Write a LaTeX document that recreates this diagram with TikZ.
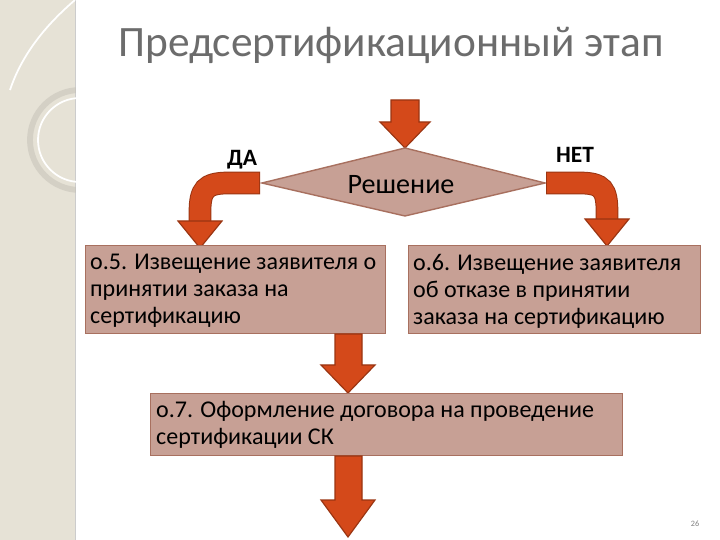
\documentclass[tikz,border=0pt]{standalone}
\usepackage{fontspec}
\setmainfont{Carlito}
\begin{document}
\begin{tikzpicture}[x=0.03cm,y=-0.03cm,
  arr/.style={fill=arrowfill,draw=arrowline,line width=1pt},
  box/.style={fill=boxfill,draw=boxline,line width=1.2pt,anchor=north west,inner sep=0pt},
  btext/.style={font=\fontsize{20.5}{23}\selectfont,align=left,anchor=north west,inner sep=0pt}]
\definecolor{arrowfill}{HTML}{D4491A}
\definecolor{arrowline}{HTML}{9A3512}
\definecolor{boxfill}{HTML}{C7A095}
\definecolor{boxline}{HTML}{A8705F}
\definecolor{strip}{HTML}{E6E2D6}
\useasboundingbox (0,0) rectangle (720,540);
\fill[white] (0,0) rectangle (720,540);
% left strip
\fill[strip] (0,0) rectangle (75,540);
\draw[gray!40,line width=0.8pt] (75,0) -- (75,540);
\draw[white,line width=1.5pt] (75,0) .. controls (40,30) and (20,60) .. (10,90);
\draw[strip!85!black,line width=5pt,opacity=0.5] (80,140) circle (50);
\draw[white,line width=1.5pt] (80,140) circle (42);
\fill[white] (76,0) rectangle (720,540);
% title
\node[font=\fontsize{37}{40}\selectfont,text=gray!85!black] (title) at (391,45) {Предсертификационный этап};
% top arrow
\filldraw[arr] (391,100) -- (419,100) -- (419,122) -- (430,122) -- (405,148) -- (380,122) -- (391,122) -- cycle;
% diamond
\filldraw[fill=boxfill,draw=boxline,line width=1.2pt] (405,148) -- (545,183) -- (405,216) -- (262,183) -- cycle;
\node[font=\fontsize{24}{26}\selectfont] (res) at (401,185) {Решение};
\node[font=\fontsize{20}{22}\selectfont\bfseries] (da) at (242,160) {ДА};
\node[font=\fontsize{20}{22}\selectfont\bfseries] (net) at (575,155) {НЕТ};
% left curved arrow
\draw[arrowline,line width=0.68cm] (260,183) -- (228,183) .. controls (205,183) and (200,190) .. (200,212) -- (200,222);
\draw[arrowfill,line width=0.62cm] (259,183) -- (228,183) .. controls (205,183) and (200,190) .. (200,212) -- (200,223);
\filldraw[arr] (178,221) -- (222,221) -- (200,248) -- cycle;
% right curved arrow
\draw[arrowline,line width=0.68cm] (546,183) -- (580,183) .. controls (603,183) and (607,190) .. (607,212) -- (607,220);
\draw[arrowfill,line width=0.62cm] (547,183) -- (580,183) .. controls (603,183) and (607,190) .. (607,212) -- (607,221);
\filldraw[arr] (585,219) -- (629,219) -- (607,246) -- cycle;
% boxes
\node[box,minimum width=300*0.03cm,minimum height=88*0.03cm] (b5) at (85,245) {};
\node[btext] (t5) at (90,254) {о.5. Извещение заявителя о\\принятии заказа на\\сертификацию};
\node[box,minimum width=292*0.03cm,minimum height=88*0.03cm] (b6) at (408,245) {};
\node[btext] (t6) at (413,254) {о.6. Извещение заявителя\\об отказе в принятии\\заказа на сертификацию};
% middle arrow
\filldraw[arr] (335,334) -- (362,334) -- (362,365) -- (375,365) -- (348,393) -- (321,365) -- (335,365) -- cycle;
\node[box,minimum width=472*0.03cm,minimum height=62*0.03cm] (b7) at (150,393) {};
\node[btext] (t7) at (156,401) {о.7. Оформление договора на проведение\\сертификации СК};
% bottom arrow
\filldraw[arr] (335,456) -- (362,456) -- (362,500) -- (375,500) -- (348,537) -- (321,500) -- (335,500) -- cycle;
\node[font=\fontsize{7}{8}\selectfont,text=gray] (pg) at (695,524) {26};
\end{tikzpicture}
\end{document}
